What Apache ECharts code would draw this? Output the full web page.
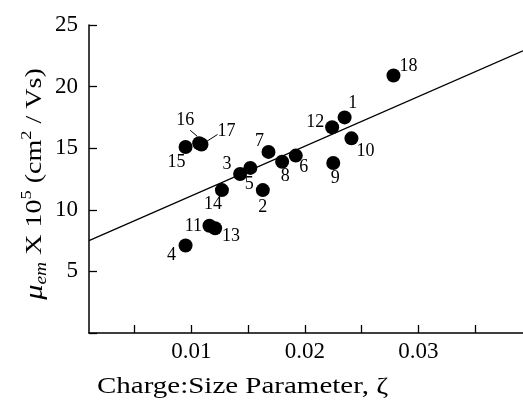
<!DOCTYPE html>
<html>
<head>
<meta charset="utf-8">
<script src="https://cdn.jsdelivr.net/npm/echarts@6/dist/echarts.min.js"></script>
<style>
  html, body { margin: 0; padding: 0; background: #fff; }
  #chart { width: 523px; height: 402px; }
</style>
</head>
<body>
<div id="chart"></div>
<script>
// compound numbers and measured values
var ptNames = ['1', '2', '3', '4', '5', '6', '7', '8', '9', '10', '11', '12', '13', '14', '15', '16', '17', '18'];
var zeta = [0.0235, 0.0163, 0.0143, 0.0095, 0.0152, 0.0192, 0.0168, 0.0180, 0.0225, 0.0241, 0.0116, 0.0224, 0.0121, 0.0127, 0.0095, 0.0107, 0.0109, 0.0278];
var mobility = [17.5, 11.6, 12.9, 7.1, 13.4, 14.4, 14.7, 13.9, 13.8, 15.8, 8.7, 16.7, 8.5, 11.6, 15.1, 15.4, 15.3, 20.9];

// regression line end points
var fitX = [0.001, 0.0392];
var fitY = [7.5, 22.9];

var xLabelVals = [0.01, 0.02, 0.03];
var xTickVals = [0.005, 0.01, 0.015, 0.02, 0.025, 0.03, 0.035];

// label offsets (px) relative to each dot
var labelOffsets = [[8, -14], [0, 17], [-13, -10], [-14, 10], [-1, 16], [8, 12], [-9, -11], [3, 15], [2, 15],
  [14, 13], [-16, 0], [-17, -5], [16, 8], [-9, 14], [-9, 15], [-14, -23], [25, -13], [15, -9]];

// leader lines for the crowded labels: point index, [start offset], [end offset] in px
var leaders = [[15, [-9, -13], [-2, -7]], [16, [16, -10], [5, -3]]];

var font = '"Liberation Serif", "Times New Roman", serif';

var pts = zeta.map(function (x, i) {
  return {
    value: [x, mobility[i]],
    name: ptNames[i],
    label: { offset: labelOffsets[i] }
  };
});

var myChart = echarts.init(document.getElementById('chart'));
var option = {
  animation: false,
  backgroundColor: '#fff',
  grid: { left: 89, right: 0, top: 25, bottom: 69 },
  xAxis: {
    type: 'value',
    min: 0.001,
    max: 0.0392,
    axisLine: { lineStyle: { color: '#000', width: 1.5 } },
    axisTick: { inside: true, length: 8, customValues: xTickVals, lineStyle: { color: '#000', width: 1.3 } },
    axisLabel: { customValues: xLabelVals, color: '#000', fontSize: 23, fontFamily: font, margin: 7 },
    splitLine: { show: false }
  },
  yAxis: {
    type: 'value',
    min: 0,
    max: 25,
    interval: 5,
    axisLine: { show: true, lineStyle: { color: '#000', width: 1.5 } },
    axisTick: { show: true, inside: true, length: 8, lineStyle: { color: '#000', width: 1.3 } },
    axisLabel: { color: '#000', fontSize: 23, fontFamily: font, margin: 11,
      formatter: function (v) { return v === 0 ? '' : v; } },
    splitLine: { show: false }
  },
  series: [
    {
      type: 'line',
      data: fitX.map(function (x, i) { return [x, fitY[i]]; }),
      showSymbol: false,
      lineStyle: { color: '#000', width: 1.3 },
      z: 1
    },
    {
      type: 'scatter',
      data: pts,
      symbolSize: 14,
      itemStyle: { color: '#000', opacity: 1 },
      label: {
        show: true,
        position: 'inside',
        formatter: '{b}',
        color: '#000',
        fontSize: 18,
        fontFamily: font
      },
      z: 2
    }
  ]
};
myChart.setOption(option);

// axis titles and leader lines
var graphics = [
  {
    type: 'text',
    x: 97,
    y: 375,
    scaleX: 1.26,
    style: { text: 'Charge:Size Parameter, ζ', fontSize: 23, fontFamily: font, fill: '#000' }
  },
  {
    type: 'text',
    x: 35,
    y: 184,
    rotation: Math.PI / 2,
    scaleX: 1.22,
    style: {
      text: '{mu|μ}{sub|em}{n| X 10}{sup|5}{n| (cm}{sup|2}{n| / Vs)}',
      align: 'center',
      verticalAlign: 'middle',
      fontFamily: font,
      fill: '#000',
      rich: {
        n: { fontSize: 23, fontFamily: font, fill: '#000', lineHeight: 30 },
        mu: { fontSize: 25, fontStyle: 'italic', fontFamily: font, fill: '#000', lineHeight: 30 },
        sub: { fontSize: 16, fontStyle: 'italic', fontFamily: font, fill: '#000', verticalAlign: 'bottom', lineHeight: 30 },
        sup: { fontSize: 15, fontFamily: font, fill: '#000', verticalAlign: 'top', lineHeight: 30 }
      }
    }
  }
];
leaders.forEach(function (l) {
  var p = myChart.convertToPixel({ gridIndex: 0 }, [zeta[l[0]], mobility[l[0]]]);
  graphics.push({
    type: 'line',
    z: 10,
    shape: { x1: p[0] + l[1][0], y1: p[1] + l[1][1], x2: p[0] + l[2][0], y2: p[1] + l[2][1] },
    style: { stroke: '#000', lineWidth: 1 }
  });
});
myChart.setOption({ graphic: graphics });
</script>
</body>
</html>
